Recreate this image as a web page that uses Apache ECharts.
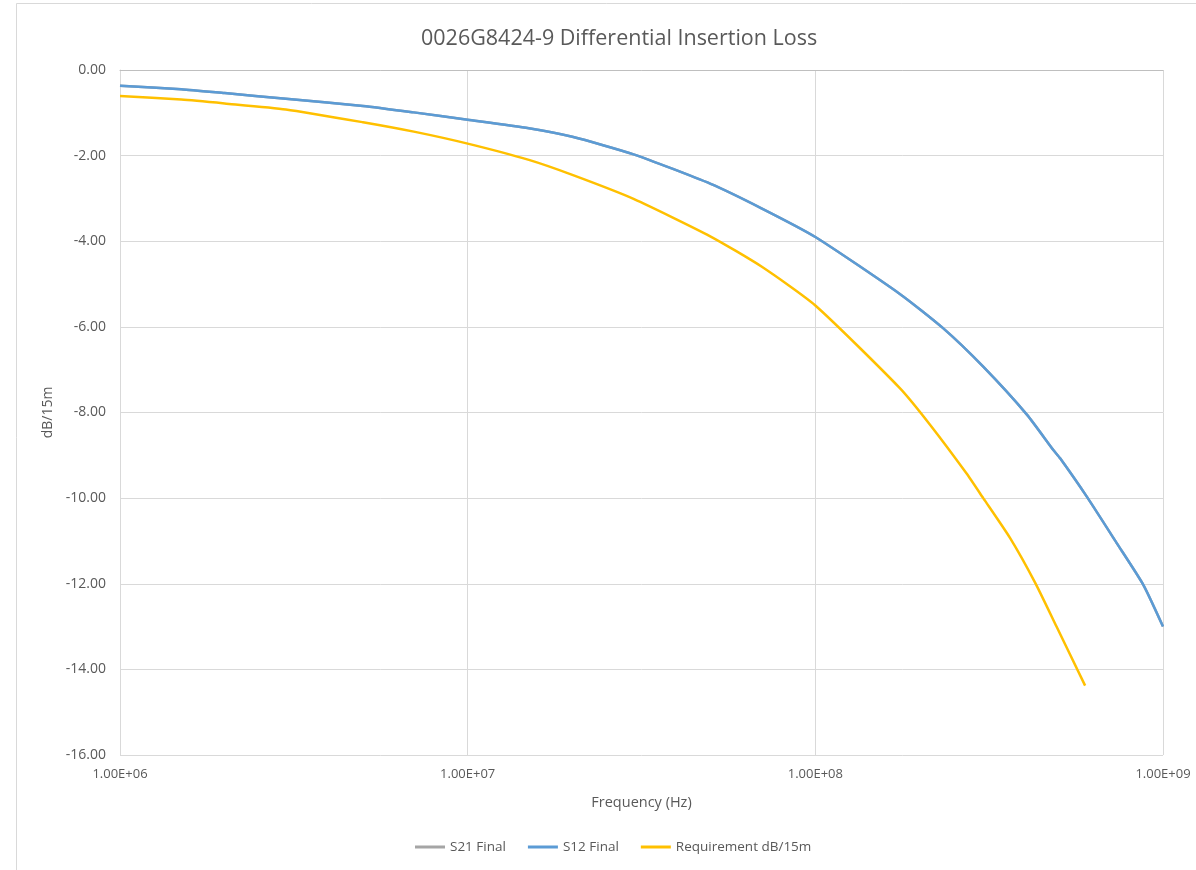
<!DOCTYPE html>
<html>
<head>
<meta charset="utf-8">
<title>0026G8424-9 Differential Insertion Loss</title>
<script src="https://cdn.jsdelivr.net/npm/echarts@6/dist/echarts.min.js"></script>
<style>
  html, body { margin: 0; padding: 0; background: #ffffff; }
  #chart { width: 1196px; height: 870px; }
</style>
</head>
<body>
<div id="chart"></div>
<script>
// Measured cable response, frequency in Hz, loss in dB per 15 m
const measuredFreq = [1e6, 1.5e6, 2e6, 3e6, 5e6, 7e6, 1e7, 1.5e7, 2e7, 3e7, 5e7, 7e7,
  1e8, 1.75e8, 2.33e8, 3.04e8, 4.06e8, 4.83e8, 5.06e8, 6.03e8, 7.36e8, 8.77e8, 1e9];
const s21Final = [-0.37, -0.45, -0.54, -0.67, -0.84, -0.99, -1.16, -1.36, -1.56, -1.97, -2.66, -3.23,
  -3.90, -5.23, -6.03, -6.93, -8.05, -8.87, -9.07, -9.96, -11.05, -12.02, -13.00];
const s12Final = [-0.37, -0.45, -0.54, -0.67, -0.84, -0.99, -1.16, -1.36, -1.56, -1.97, -2.66, -3.23,
  -3.90, -5.23, -6.03, -6.93, -8.05, -8.87, -9.07, -9.96, -11.05, -12.02, -13.00];

// Requirement limit line
const reqFreq = [1e6, 1.5e6, 2e6, 3e6, 5e6, 7e6, 1e7, 1.5e7, 2e7, 3e7, 5e7, 7e7,
  1e8, 1.75e8, 2.14e8, 2.72e8, 3.04e8, 3.63e8, 4.29e8, 4.94e8, 5.97e8];
const requirement = [-0.61, -0.69, -0.78, -0.92, -1.22, -1.44, -1.72, -2.10, -2.45, -3.01, -3.89, -4.59,
  -5.50, -7.43, -8.29, -9.42, -10.00, -10.93, -11.98, -13.00, -14.38];

const seriesNames = ['S21 Final', 'S12 Final', 'Requirement dB/15m'];
const seriesColors = ['#A5A5A5', '#5B9BD5', '#FFC000'];

const pair = (xs, ys) => xs.map((x, i) => [x, ys[i]]);

const fontFamily = '"Open Sans", "Noto Sans", "Liberation Sans", sans-serif';
const textColor = '#595959';
const gridColor = '#d9d9d9';

function sci(v) {
  const e = Math.round(Math.log10(v));
  const m = v / Math.pow(10, e);
  return m.toFixed(2) + 'E+' + String(e).padStart(2, '0');
}

function lineSeries(i, data, z) {
  return {
    name: seriesNames[i], type: 'line', data,
    showSymbol: false, smooth: 0.2,
    color: seriesColors[i],
    lineStyle: { width: 2.5, color: seriesColors[i] }, z
  };
}

const chart = echarts.init(document.getElementById('chart'));
chart.setOption({
  animation: false,
  backgroundColor: '#ffffff',
  title: {
    text: '0026G8424-9 Differential Insertion Loss',
    left: 416,
    top: 23,
    textStyle: { fontFamily, fontSize: 21.5, fontWeight: 'normal', color: textColor }
  },
  legend: {
    bottom: 11,
    left: 410,
    itemWidth: 30,
    itemHeight: 3,
    itemGap: 22,
    icon: 'rect',
    data: seriesNames,
    textStyle: { fontFamily, fontSize: 13.5, color: textColor }
  },
  grid: { left: 120, right: 33, top: 70, bottom: 115 },
  xAxis: {
    type: 'log',
    logBase: 10,
    min: 1e6,
    max: 1e9,
    name: 'Frequency (Hz)',
    nameLocation: 'middle',
    nameGap: 40,
    nameTextStyle: { fontFamily, fontSize: 14.5, color: textColor },
    axisLine: { show: true, lineStyle: { color: '#bfbfbf', width: 1 } },
    axisTick: { show: false },
    axisLabel: {
      fontFamily, fontSize: 13, color: textColor, margin: 13,
      formatter: v => sci(v)
    },
    splitLine: { show: true, lineStyle: { color: gridColor, width: 1 } },
    minorTick: { show: false },
    minorSplitLine: { show: false }
  },
  yAxis: {
    type: 'value',
    min: -16,
    max: 0,
    interval: 2,
    name: 'dB/15m',
    nameLocation: 'middle',
    nameGap: 64,
    nameRotate: 90,
    nameTextStyle: { fontFamily, fontSize: 14, color: textColor },
    axisLine: { show: true, lineStyle: { color: gridColor, width: 1 } },
    axisTick: { show: false },
    axisLabel: {
      fontFamily, fontSize: 14, color: textColor, margin: 14,
      formatter: v => v.toFixed(2)
    },
    splitLine: { show: true, lineStyle: { color: gridColor, width: 1 } }
  },
  graphic: [{
    type: 'rect',
    silent: true,
    shape: { x: 16.5, y: 3.5, width: 1300, height: 1000 },
    style: { fill: 'none', stroke: gridColor, lineWidth: 1 }
  }],
  series: [
    lineSeries(0, pair(measuredFreq, s21Final), 1),
    lineSeries(1, pair(measuredFreq, s12Final), 2),
    lineSeries(2, pair(reqFreq, requirement), 3)
  ]
});
</script>
</body>
</html>
